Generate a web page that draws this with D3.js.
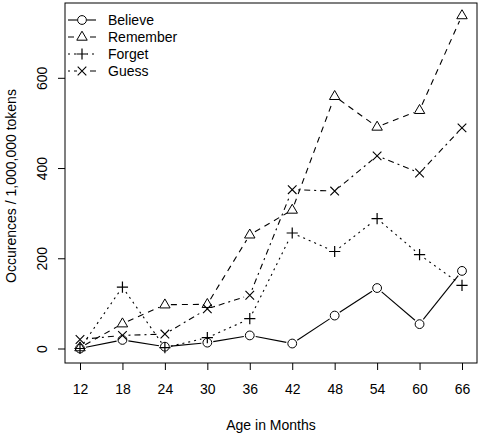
<!DOCTYPE html>
<html><head><meta charset="utf-8">
<script src="https://cdn.jsdelivr.net/npm/d3@7"></script>
<style>body{margin:0;background:#fff}svg{display:block}text{font-family:"Liberation Sans",Arial,sans-serif;fill:#000}</style>
</head><body><svg id="c" width="480" height="435"></svg>
<script>
const months = [12,18,24,30,36,42,48,54,60,66];
const believe  = [0,19,4,13,29,11,73,134,54,172];
const remember = [2,55,97,98,252,307,559,491,528,738];
const forget   = [0,136,2,24,66,256,215,288,208,140];
const guess    = [20,29,32,88,118,352,349,427,389,489];
const yTicks = [0,200,400,600];
const seriesNames = ["Believe","Remember","Forget","Guess"];

const series = [
  {name:seriesNames[0], values:believe,  shape:"circle",   dash:null},
  {name:seriesNames[1], values:remember, shape:"triangle", dash:"6,5"},
  {name:seriesNames[2], values:forget,   shape:"plus",     dash:"2,4"},
  {name:seriesNames[3], values:guess,    shape:"cross",    dash:"2,4,6,4"}
];

const FS = 14;
const svg = d3.select("#c");
const L=65,R=477,T=3,B=363;
const x = d3.scaleLinear().domain([12,66]).range([80,462]);
const y = d3.scaleLinear().domain([0,600]).range([348.5,77.8]);

function drawSym(g, shape, cx, cy){
  if(shape==="circle") g.append("circle").attr("cx",cx).attr("cy",cy).attr("r",4.4).attr("fill","none").attr("stroke","#000");
  else if(shape==="triangle"){
    const s=5.8;
    g.append("path").attr("d",`M${cx},${cy-s}L${cx+s*0.9},${cy+s*0.55}L${cx-s*0.9},${cy+s*0.55}Z`).attr("fill","none").attr("stroke","#000");
  } else if(shape==="plus"){
    const s=5.6;
    g.append("path").attr("d",`M${cx-s},${cy}H${cx+s}M${cx},${cy-s}V${cy+s}`).attr("stroke","#000").attr("stroke-width",1.2);
  } else {
    const s=4.3;
    g.append("path").attr("d",`M${cx-s},${cy-s}L${cx+s},${cy+s}M${cx-s},${cy+s}L${cx+s},${cy-s}`).attr("stroke","#000").attr("stroke-width",1.1);
  }
}

// series
const gap=6;
series.forEach(s=>{
  const g=svg.append("g");
  const pts=months.map((m,i)=>[x(m),y(s.values[i])]);
  for(let i=0;i<pts.length-1;i++){
    const [x1,y1]=pts[i],[x2,y2]=pts[i+1];
    const dx=x2-x1,dy=y2-y1,len=Math.hypot(dx,dy);
    if(len<=2*gap) continue;
    const ux=dx/len,uy=dy/len;
    const ln=g.append("line").attr("x1",x1+ux*gap).attr("y1",y1+uy*gap).attr("x2",x2-ux*gap).attr("y2",y2-uy*gap)
      .attr("stroke","#000").attr("stroke-width",1.1);
    if(s.dash) ln.attr("stroke-dasharray",s.dash);
  }
  pts.forEach(p=>drawSym(g,s.shape,p[0],p[1]));
});

// box
svg.append("rect").attr("x",L).attr("y",T).attr("width",R-L).attr("height",B-T).attr("fill","none").attr("stroke","#000").attr("stroke-width",1);

// axes
const xa = svg.append("g").attr("transform",`translate(0,${B})`).call(d3.axisBottom(x).tickValues(months).tickSize(7).tickPadding(14).tickSizeOuter(0));
xa.select(".domain").remove();
xa.selectAll("text").attr("font-size",FS).attr("font-family","Liberation Sans, Arial, sans-serif");
const ya = svg.append("g").attr("transform",`translate(${L},0)`).call(d3.axisLeft(y).tickValues(yTicks).tickSize(7).tickFormat(d3.format("d")));
ya.select(".domain").remove();
ya.selectAll("text").attr("font-size",FS).attr("font-family","Liberation Sans, Arial, sans-serif")
  .attr("x",0).attr("y",0).attr("dx",null).attr("dy",null)
  .attr("text-anchor","middle")
  .attr("transform","translate(-18,0) rotate(-90)");

// axis labels
svg.append("text").attr("x",271).attr("y",430).attr("text-anchor","middle").attr("font-size",FS).text("Age in Months");
svg.append("text").attr("transform","translate(16,186) rotate(-90)").attr("text-anchor","middle").attr("font-size",FS).text("Occurences / 1,000,000 tokens");

// legend
const lg=svg.append("g");
series.forEach((s,i)=>{
  const ly=20+i*17;
  const ln=lg.append("line").attr("x1",68).attr("x2",96).attr("y1",ly).attr("y2",ly).attr("stroke","#000").attr("stroke-width",1.1);
  if(s.dash) ln.attr("stroke-dasharray",s.dash);
  lg.append("rect").attr("x",77).attr("y",ly-6).attr("width",10).attr("height",12).attr("fill","#fff");
  drawSym(lg,s.shape,82,ly);
  lg.append("text").attr("x",108).attr("y",ly+5).attr("font-size",FS).text(s.name);
});
</script></body></html>
